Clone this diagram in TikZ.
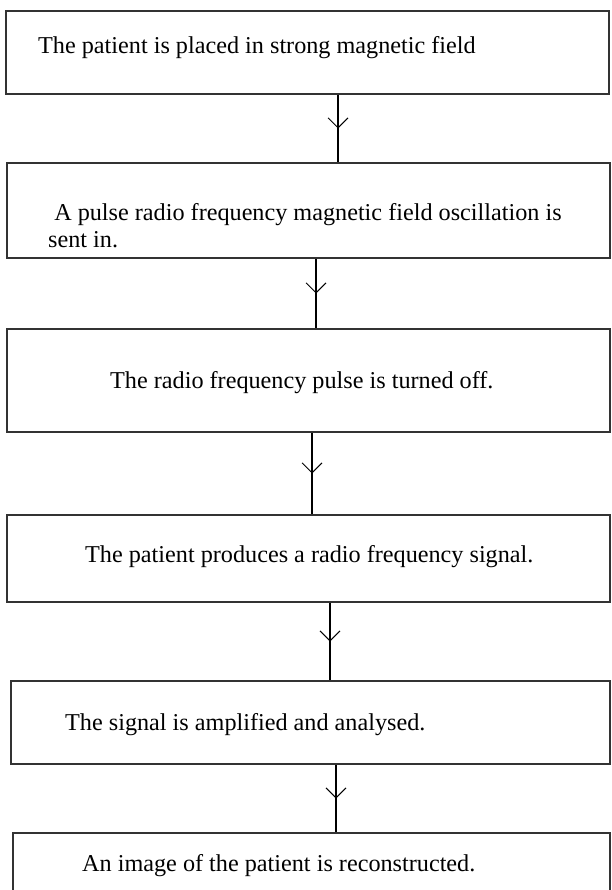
\documentclass[tikz,border=0pt]{standalone}
\usepackage{fontspec}
\setmainfont{Liberation Serif}
\usetikzlibrary{arrows.meta, decorations.markings}

\begin{document}
\begin{tikzpicture}[x=1pt, y=-1pt,
    stepbox/.style  = {draw=black!80, line width=1.6pt, inner sep=0pt},
    steptext/.style = {anchor=base west, inner sep=0pt, align=left,
                       font=\fontsize{24.2}{28}\selectfont},
    arrow/.style    = {line width=1.3pt, postaction={decorate},
                       decoration={markings, mark=at position 0.5 with
                         {\arrow{Straight Barb[length=10pt, width=20pt, line width=0.9pt]}}}}
  ]
  \useasboundingbox (0,0) rectangle (611,890);

  \node[stepbox, minimum width=603pt, minimum height=83pt]  (field)  at (307.5,52.5) {};
  \node[stepbox, minimum width=603pt, minimum height=95pt]  (pulse)  at (308.5,210.5) {};
  \node[stepbox, minimum width=603pt, minimum height=103pt] (off)    at (308.5,380.5) {};
  \node[stepbox, minimum width=603pt, minimum height=87pt]  (signal) at (308.5,558.5) {};
  \node[stepbox, minimum width=599pt, minimum height=83pt]  (amp)    at (310.5,722.5) {};
  \node[stepbox, minimum width=597pt, minimum height=72pt]  (image)  at (311.5,869) {};

  \node[steptext] (fieldtxt)  at (38,54)   {The patient is placed in strong magnetic field};
  \node[steptext] (pulsetxt)  at (48,248)  {\ A pulse radio frequency magnetic field oscillation is\\sent in.};
  \node[steptext] (offtxt)    at (110,388) {The radio frequency pulse is turned off.};
  \node[steptext] (signaltxt) at (85,562)  {The patient produces a radio frequency signal.};
  \node[steptext] (amptxt)    at (65,730)  {The signal is amplified and analysed.};
  \node[steptext] (imagetxt)  at (82,871)  {An image of the patient is reconstructed.};

  \draw[arrow] (field.south -| 338,0)  -- (pulse.north -| 338,0);
  \draw[arrow] (pulse.south -| 316,0)  -- (off.north -| 316,0);
  \draw[arrow] (off.south -| 312,0)    -- (signal.north -| 312,0);
  \draw[arrow] (signal.south -| 330,0) -- (amp.north -| 330,0);
  \draw[arrow] (amp.south -| 336,0)    -- (image.north -| 336,0);
\end{tikzpicture}
\end{document}
